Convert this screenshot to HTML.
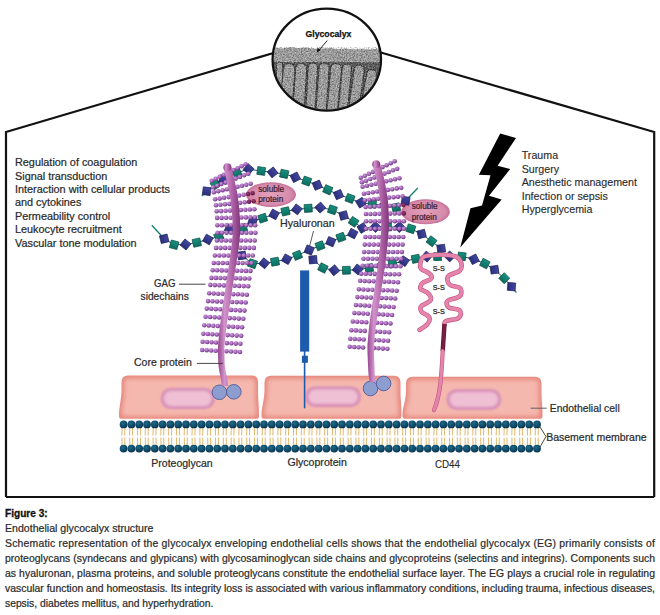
<!DOCTYPE html>
<html><head><meta charset="utf-8"><style>
html,body{margin:0;padding:0;background:#ffffff;}
svg{display:block;font-family:"Liberation Sans", sans-serif;}
</style></head><body>
<svg width="660" height="615" viewBox="0 0 660 615">

<defs>
 <radialGradient id="dot" cx="0.4" cy="0.35" r="0.7">
  <stop offset="0" stop-color="#cc9cdc"/><stop offset="0.5" stop-color="#a566b8"/><stop offset="1" stop-color="#5e2874"/>
 </radialGradient>
 <radialGradient id="dotd" cx="0.4" cy="0.35" r="0.7">
  <stop offset="0" stop-color="#9a3c78"/><stop offset="1" stop-color="#5a1436"/>
 </radialGradient>
 <linearGradient id="core" x1="0" y1="0" x2="1" y2="0">
  <stop offset="0" stop-color="#94448e"/><stop offset="0.3" stop-color="#d294cc"/><stop offset="0.65" stop-color="#b064a8"/><stop offset="1" stop-color="#80347a"/>
 </linearGradient>
 <radialGradient id="cellg" cx="0.5" cy="0.5" r="0.6">
  <stop offset="0" stop-color="#f7cdc6"/><stop offset="0.7" stop-color="#f4b9b0"/><stop offset="1" stop-color="#e8908a"/>
 </radialGradient>
 <radialGradient id="nuc" cx="0.5" cy="0.5" r="0.55">
  <stop offset="0" stop-color="#f1c3dc"/><stop offset="0.6" stop-color="#e6a8cc"/><stop offset="1" stop-color="#c474a8"/>
 </radialGradient>
 <radialGradient id="head" cx="0.4" cy="0.35" r="0.7">
  <stop offset="0" stop-color="#1f6a8a"/><stop offset="0.6" stop-color="#0f4a68"/><stop offset="1" stop-color="#07304a"/>
 </radialGradient>
 <radialGradient id="ell" cx="0.5" cy="0.5" r="0.55">
  <stop offset="0" stop-color="#e3a0bc"/><stop offset="0.75" stop-color="#d68aab"/><stop offset="1" stop-color="#b85f88"/>
 </radialGradient>
 <radialGradient id="base" cx="0.4" cy="0.4" r="0.6">
  <stop offset="0" stop-color="#9aa6d6"/><stop offset="1" stop-color="#7482bc"/>
 </radialGradient>
 <linearGradient id="teal" x1="0" y1="0" x2="0" y2="1"><stop offset="0" stop-color="#16927f"/><stop offset="1" stop-color="#0c6d60"/></linearGradient>
 <linearGradient id="navy" x1="0" y1="0" x2="0" y2="1"><stop offset="0" stop-color="#4348a0"/><stop offset="1" stop-color="#2a2d7a"/></linearGradient>
</defs>
<rect width="660" height="615" fill="#ffffff"/>
<path d="M6 497 L6 132 L273.5 53 M380 52.3 L654.2 132 L654.2 497" fill="none" stroke="#111" stroke-width="2.2" stroke-linejoin="miter"/>
<path d="M6 497 L654.2 497" stroke="#111" stroke-width="2.2"/>
<ellipse cx="326.8" cy="59.6" rx="54.2" ry="51" fill="#fff"/>
<clipPath id="circ"><ellipse cx="326.8" cy="59.6" rx="53.2" ry="50"/></clipPath>
<filter id="noise" x="0" y="0" width="100%" height="100%"><feTurbulence type="fractalNoise" baseFrequency="0.7" numOctaves="2" seed="7" result="n"/><feColorMatrix in="n" type="matrix" values="0 0 0 0 0  0 0 0 0 0  0 0 0 0 0  0 0 0 2.2 -0.9"/></filter>
<filter id="noisew" x="0" y="0" width="100%" height="100%"><feTurbulence type="fractalNoise" baseFrequency="0.8" numOctaves="2" seed="11" result="n"/><feColorMatrix in="n" type="matrix" values="0 0 0 0 1  0 0 0 0 1  0 0 0 0 1  0 0 0 2.4 -1.1"/></filter>
<filter id="cblur" x="-10%" y="-10%" width="120%" height="120%"><feGaussianBlur stdDeviation="0.6"/></filter>
<g clip-path="url(#circ)"><path d="M268 49 L275 47.5 L282 48.5 L290 47 L298 48 L306 47.5 L314 49 L322 48.5 L330 48 L338 49 L346 48.5 L354 49.5 L362 49 L370 49.5 L378 48.5 L388 50 L388 120 L268 120 Z" fill="#a2a2a2"/><rect x="268" y="62" width="120" height="60" fill="#5a5a5a"/><path d="M276.3 65.5 Q276.3 62 279.5 62 Q282.7 62 282.7 65.5 L282.7 118 L276.3 118 Z" fill="#a2a2a2" stroke="#3a3a3a" stroke-width="1.15" filter="url(#cblur)"/><path d="M283.1 69.75 Q283.1 63.5 289.05 63.5 Q295.0 63.5 295.0 69.75 L291.7 118 L279.3 118 Z" fill="#a2a2a2" stroke="#3a3a3a" stroke-width="1.15" filter="url(#cblur)"/><path d="M295.6 69.35 Q295.6 63.5 301.15 63.5 Q306.7 63.5 306.7 69.35 L303.7 118 L292.3 118 Z" fill="#a2a2a2" stroke="#3a3a3a" stroke-width="1.15" filter="url(#cblur)"/><path d="M308.1 68.0 Q308.1 63 312.8 63 Q317.5 63 317.5 68.0 L314.7 118 L305.3 118 Z" fill="#a2a2a2" stroke="#3a3a3a" stroke-width="1.15" filter="url(#cblur)"/><path d="M319.0 68.4 Q319.0 63 324.1 63 Q329.2 63 329.2 68.4 L325.7 118 L315.3 118 Z" fill="#a2a2a2" stroke="#3a3a3a" stroke-width="1.15" filter="url(#cblur)"/><path d="M330.6 69.35 Q330.6 63.5 336.15 63.5 Q341.7 63.5 341.7 69.35 L336.7 118 L326.3 118 Z" fill="#a2a2a2" stroke="#3a3a3a" stroke-width="1.15" filter="url(#cblur)"/><path d="M342.3 69.0 Q342.3 64 347.0 64 Q351.7 64 351.7 69.0 L346.7 118 L337.3 118 Z" fill="#a2a2a2" stroke="#3a3a3a" stroke-width="1.15" filter="url(#cblur)"/><path d="M354.0 70.4 Q354.0 65 359.1 65 Q364.2 65 364.2 70.4 L357.7 118 L347.3 118 Z" fill="#a2a2a2" stroke="#3a3a3a" stroke-width="1.15" filter="url(#cblur)"/><path d="M366.5 74.9 Q366.5 69.5 371.6 69.5 Q376.7 69.5 376.7 74.9 L368.7 118 L358.3 118 Z" fill="#a2a2a2" stroke="#3a3a3a" stroke-width="1.15" filter="url(#cblur)"/><rect x="268" y="44" width="120" height="75" fill="#000" filter="url(#noise)" opacity="0.45"/><rect x="268" y="44" width="120" height="75" fill="#fff" filter="url(#noisew)" opacity="0.5"/><rect x="268" y="0" width="120" height="47" fill="#fff"/></g>
<ellipse cx="326.8" cy="59.6" rx="54.2" ry="51" fill="none" stroke="#111" stroke-width="2.3"/>
<text x="305.5" y="36.5" font-family=""Liberation Sans", sans-serif" font-weight="bold" font-size="8.7" fill="#111" stroke="#111" stroke-width="0.25">Glycocalyx</text>
<path d="M327.3 40.6 L318.5 50.5" stroke="#111" stroke-width="0.9"/><path d="M316.6 52.6 L317.6 47.6 L320.6 50.2 Z" fill="#111"/>
<path d="M500.2 133.5 L516 138 L497.6 165.8 L510.2 169 L489 195.8 L501.7 199.4 L460.2 247.6 L470.5 208.3 L482 205.6 L490.5 175.2 L478.9 174.8 Z" fill="#000"/>
<filter id="blur2" x="-20%" y="-40%" width="140%" height="180%"><feGaussianBlur stdDeviation="2.2"/></filter>
<filter id="blur1" x="-20%" y="-40%" width="140%" height="180%"><feGaussianBlur stdDeviation="1.3"/></filter>
<filter id="blur08" x="-20%" y="-40%" width="140%" height="180%"><feGaussianBlur stdDeviation="0.8"/></filter>
<filter id="blur15" x="-20%" y="-40%" width="140%" height="180%"><feGaussianBlur stdDeviation="1.6"/></filter>
<path d="M128.0 375.5 L251.5 375.5 Q258 375.5 258 382.0 L258 391.5 C258 399.5 259.0 404.8 259.0 415.8 Q259.0 418.8 257.0 418.8 L121.0 418.8 Q119.0 418.8 119.0 415.8 C119.0 406.8 121.5 399.5 121.5 389.5 L121.5 382.0 Q121.5 375.5 128.0 375.5 Z" fill="#e7897f"/>
<path d="M128.5 378.5 L251 378.5 Q255 378.5 255 382.5 L255 394.5 C255 402.5 256.0 402.3 256.0 413.3 Q256.0 416.3 254.0 416.3 L124.0 416.3 Q122.0 416.3 122.0 413.3 C122.0 404.3 124.5 402.5 124.5 392.5 L124.5 382.5 Q124.5 378.5 128.5 378.5 Z" fill="#f4b8ae" filter="url(#blur2)"/>
<path d="M271.0 375.7 L394.0 375.7 Q400.5 375.7 400.5 382.2 L400.5 391.7 C400.5 399.7 401.5 404.8 401.5 415.8 Q401.5 418.8 399.5 418.8 L263.5 418.8 Q261.5 418.8 261.5 415.8 C261.5 406.8 264.5 399.7 264.5 389.7 L264.5 382.2 Q264.5 375.7 271.0 375.7 Z" fill="#e7897f"/>
<path d="M271.5 378.7 L393.5 378.7 Q397.5 378.7 397.5 382.7 L397.5 394.7 C397.5 402.7 398.5 402.3 398.5 413.3 Q398.5 416.3 396.5 416.3 L266.5 416.3 Q264.5 416.3 264.5 413.3 C264.5 404.3 267.5 402.7 267.5 392.7 L267.5 382.7 Q267.5 378.7 271.5 378.7 Z" fill="#f4b8ae" filter="url(#blur2)"/>
<path d="M412.5 376.8 L535.0 376.8 Q541.5 376.8 541.5 383.3 L541.5 392.8 C541.5 400.8 542.5 404.8 542.5 415.8 Q542.5 418.8 540.5 418.8 L404.5 418.8 Q402.5 418.8 402.5 415.8 C402.5 406.8 406 400.8 406 390.8 L406 383.3 Q406 376.8 412.5 376.8 Z" fill="#e7897f"/>
<path d="M413 379.8 L534.5 379.8 Q538.5 379.8 538.5 383.8 L538.5 395.8 C538.5 403.8 539.5 402.3 539.5 413.3 Q539.5 416.3 537.5 416.3 L407.5 416.3 Q405.5 416.3 405.5 413.3 C405.5 404.3 409 403.8 409 393.8 L409 383.8 Q409 379.8 413 379.8 Z" fill="#f4b8ae" filter="url(#blur2)"/>
<rect x="160.8" y="388" width="54.0" height="21" rx="9.975" fill="#d68cb6" filter="url(#blur08)"/><rect x="163.60000000000002" y="390.8" width="48.4" height="15.4" rx="7.7" fill="#efc0d4" filter="url(#blur15)"/>
<rect x="305.4" y="386.5" width="55.400000000000034" height="20.399999999999977" rx="9.689999999999989" fill="#d68cb6" filter="url(#blur08)"/><rect x="308.2" y="389.3" width="49.80000000000003" height="14.799999999999978" rx="7.399999999999989" fill="#efc0d4" filter="url(#blur15)"/>
<rect x="446.6" y="389.3" width="54.5" height="20.5" rx="9.737499999999999" fill="#d68cb6" filter="url(#blur08)"/><rect x="449.40000000000003" y="392.1" width="48.9" height="14.9" rx="7.45" fill="#efc0d4" filter="url(#blur15)"/>
<path d="M122.0 427.5 L121.8 435.5 M124.9 427.5 L124.7 435.5 M121.9 437.5 L122.0 445.5 M124.8 437.5 L124.9 445.5" stroke="#e2b86c" stroke-width="1.0"/><path d="M129.8 427.5 L129.6 435.5 M132.7 427.5 L132.5 435.5 M129.7 437.5 L129.8 445.5 M132.6 437.5 L132.7 445.5" stroke="#e2b86c" stroke-width="1.0"/><path d="M137.6 427.5 L137.4 435.5 M140.5 427.5 L140.3 435.5 M137.5 437.5 L137.6 445.5 M140.4 437.5 L140.5 445.5" stroke="#e2b86c" stroke-width="1.0"/><path d="M145.4 427.5 L145.2 435.5 M148.3 427.5 L148.1 435.5 M145.3 437.5 L145.4 445.5 M148.2 437.5 L148.3 445.5" stroke="#e2b86c" stroke-width="1.0"/><path d="M153.2 427.5 L153.0 435.5 M156.1 427.5 L155.9 435.5 M153.1 437.5 L153.2 445.5 M156.0 437.5 L156.1 445.5" stroke="#e2b86c" stroke-width="1.0"/><path d="M161.0 427.5 L160.8 435.5 M163.9 427.5 L163.7 435.5 M160.9 437.5 L161.0 445.5 M163.8 437.5 L163.9 445.5" stroke="#e2b86c" stroke-width="1.0"/><path d="M168.8 427.5 L168.6 435.5 M171.7 427.5 L171.5 435.5 M168.7 437.5 L168.8 445.5 M171.6 437.5 L171.7 445.5" stroke="#e2b86c" stroke-width="1.0"/><path d="M176.6 427.5 L176.4 435.5 M179.5 427.5 L179.3 435.5 M176.5 437.5 L176.6 445.5 M179.4 437.5 L179.5 445.5" stroke="#e2b86c" stroke-width="1.0"/><path d="M184.4 427.5 L184.2 435.5 M187.3 427.5 L187.1 435.5 M184.3 437.5 L184.4 445.5 M187.2 437.5 L187.3 445.5" stroke="#e2b86c" stroke-width="1.0"/><path d="M192.2 427.5 L192.0 435.5 M195.1 427.5 L194.9 435.5 M192.1 437.5 L192.2 445.5 M195.0 437.5 L195.1 445.5" stroke="#e2b86c" stroke-width="1.0"/><path d="M200.0 427.5 L199.8 435.5 M202.9 427.5 L202.7 435.5 M199.9 437.5 L200.0 445.5 M202.8 437.5 L202.9 445.5" stroke="#e2b86c" stroke-width="1.0"/><path d="M207.8 427.5 L207.6 435.5 M210.7 427.5 L210.5 435.5 M207.7 437.5 L207.8 445.5 M210.6 437.5 L210.7 445.5" stroke="#e2b86c" stroke-width="1.0"/><path d="M215.6 427.5 L215.4 435.5 M218.5 427.5 L218.3 435.5 M215.5 437.5 L215.6 445.5 M218.4 437.5 L218.5 445.5" stroke="#e2b86c" stroke-width="1.0"/><path d="M223.4 427.5 L223.2 435.5 M226.3 427.5 L226.1 435.5 M223.3 437.5 L223.4 445.5 M226.2 437.5 L226.3 445.5" stroke="#e2b86c" stroke-width="1.0"/><path d="M231.2 427.5 L231.0 435.5 M234.1 427.5 L233.9 435.5 M231.1 437.5 L231.2 445.5 M234.0 437.5 L234.1 445.5" stroke="#e2b86c" stroke-width="1.0"/><path d="M239.0 427.5 L238.8 435.5 M241.9 427.5 L241.7 435.5 M238.9 437.5 L239.0 445.5 M241.8 437.5 L241.9 445.5" stroke="#e2b86c" stroke-width="1.0"/><path d="M246.8 427.5 L246.6 435.5 M249.7 427.5 L249.5 435.5 M246.7 437.5 L246.8 445.5 M249.6 437.5 L249.7 445.5" stroke="#e2b86c" stroke-width="1.0"/><path d="M254.6 427.5 L254.4 435.5 M257.5 427.5 L257.3 435.5 M254.5 437.5 L254.6 445.5 M257.4 437.5 L257.5 445.5" stroke="#e2b86c" stroke-width="1.0"/><path d="M262.4 427.5 L262.2 435.5 M265.3 427.5 L265.1 435.5 M262.3 437.5 L262.4 445.5 M265.2 437.5 L265.3 445.5" stroke="#e2b86c" stroke-width="1.0"/><path d="M270.2 427.5 L270.0 435.5 M273.1 427.5 L272.9 435.5 M270.1 437.5 L270.2 445.5 M273.0 437.5 L273.1 445.5" stroke="#e2b86c" stroke-width="1.0"/><path d="M278.0 427.5 L277.8 435.5 M280.9 427.5 L280.7 435.5 M277.9 437.5 L278.0 445.5 M280.8 437.5 L280.9 445.5" stroke="#e2b86c" stroke-width="1.0"/><path d="M285.8 427.5 L285.6 435.5 M288.7 427.5 L288.5 435.5 M285.7 437.5 L285.8 445.5 M288.6 437.5 L288.7 445.5" stroke="#e2b86c" stroke-width="1.0"/><path d="M293.6 427.5 L293.4 435.5 M296.5 427.5 L296.3 435.5 M293.5 437.5 L293.6 445.5 M296.4 437.5 L296.5 445.5" stroke="#e2b86c" stroke-width="1.0"/><path d="M301.4 427.5 L301.2 435.5 M304.3 427.5 L304.1 435.5 M301.3 437.5 L301.4 445.5 M304.2 437.5 L304.3 445.5" stroke="#e2b86c" stroke-width="1.0"/><path d="M309.2 427.5 L309.0 435.5 M312.1 427.5 L311.9 435.5 M309.1 437.5 L309.2 445.5 M312.0 437.5 L312.1 445.5" stroke="#e2b86c" stroke-width="1.0"/><path d="M317.0 427.5 L316.8 435.5 M319.9 427.5 L319.7 435.5 M316.9 437.5 L317.0 445.5 M319.8 437.5 L319.9 445.5" stroke="#e2b86c" stroke-width="1.0"/><path d="M324.8 427.5 L324.6 435.5 M327.7 427.5 L327.5 435.5 M324.7 437.5 L324.8 445.5 M327.6 437.5 L327.7 445.5" stroke="#e2b86c" stroke-width="1.0"/><path d="M332.6 427.5 L332.4 435.5 M335.5 427.5 L335.3 435.5 M332.5 437.5 L332.6 445.5 M335.4 437.5 L335.5 445.5" stroke="#e2b86c" stroke-width="1.0"/><path d="M340.4 427.5 L340.2 435.5 M343.3 427.5 L343.1 435.5 M340.3 437.5 L340.4 445.5 M343.2 437.5 L343.3 445.5" stroke="#e2b86c" stroke-width="1.0"/><path d="M348.2 427.5 L348.0 435.5 M351.1 427.5 L350.9 435.5 M348.1 437.5 L348.2 445.5 M351.0 437.5 L351.1 445.5" stroke="#e2b86c" stroke-width="1.0"/><path d="M356.0 427.5 L355.8 435.5 M358.9 427.5 L358.7 435.5 M355.9 437.5 L356.0 445.5 M358.8 437.5 L358.9 445.5" stroke="#e2b86c" stroke-width="1.0"/><path d="M363.8 427.5 L363.6 435.5 M366.7 427.5 L366.5 435.5 M363.7 437.5 L363.8 445.5 M366.6 437.5 L366.7 445.5" stroke="#e2b86c" stroke-width="1.0"/><path d="M371.6 427.5 L371.4 435.5 M374.5 427.5 L374.3 435.5 M371.5 437.5 L371.6 445.5 M374.4 437.5 L374.5 445.5" stroke="#e2b86c" stroke-width="1.0"/><path d="M379.4 427.5 L379.2 435.5 M382.3 427.5 L382.1 435.5 M379.3 437.5 L379.4 445.5 M382.2 437.5 L382.3 445.5" stroke="#e2b86c" stroke-width="1.0"/><path d="M387.2 427.5 L387.0 435.5 M390.1 427.5 L389.9 435.5 M387.1 437.5 L387.2 445.5 M390.0 437.5 L390.1 445.5" stroke="#e2b86c" stroke-width="1.0"/><path d="M395.0 427.5 L394.8 435.5 M397.9 427.5 L397.7 435.5 M394.9 437.5 L395.0 445.5 M397.8 437.5 L397.9 445.5" stroke="#e2b86c" stroke-width="1.0"/><path d="M402.8 427.5 L402.6 435.5 M405.7 427.5 L405.5 435.5 M402.7 437.5 L402.8 445.5 M405.6 437.5 L405.7 445.5" stroke="#e2b86c" stroke-width="1.0"/><path d="M410.6 427.5 L410.4 435.5 M413.5 427.5 L413.3 435.5 M410.5 437.5 L410.6 445.5 M413.4 437.5 L413.5 445.5" stroke="#e2b86c" stroke-width="1.0"/><path d="M418.4 427.5 L418.2 435.5 M421.3 427.5 L421.1 435.5 M418.3 437.5 L418.4 445.5 M421.2 437.5 L421.3 445.5" stroke="#e2b86c" stroke-width="1.0"/><path d="M426.2 427.5 L426.0 435.5 M429.1 427.5 L428.9 435.5 M426.1 437.5 L426.2 445.5 M429.0 437.5 L429.1 445.5" stroke="#e2b86c" stroke-width="1.0"/><path d="M434.0 427.5 L433.8 435.5 M436.9 427.5 L436.7 435.5 M433.9 437.5 L434.0 445.5 M436.8 437.5 L436.9 445.5" stroke="#e2b86c" stroke-width="1.0"/><path d="M441.8 427.5 L441.6 435.5 M444.7 427.5 L444.5 435.5 M441.7 437.5 L441.8 445.5 M444.6 437.5 L444.7 445.5" stroke="#e2b86c" stroke-width="1.0"/><path d="M449.6 427.5 L449.4 435.5 M452.5 427.5 L452.3 435.5 M449.5 437.5 L449.6 445.5 M452.4 437.5 L452.5 445.5" stroke="#e2b86c" stroke-width="1.0"/><path d="M457.4 427.5 L457.2 435.5 M460.3 427.5 L460.1 435.5 M457.3 437.5 L457.4 445.5 M460.2 437.5 L460.3 445.5" stroke="#e2b86c" stroke-width="1.0"/><path d="M465.2 427.5 L465.0 435.5 M468.1 427.5 L467.9 435.5 M465.1 437.5 L465.2 445.5 M468.0 437.5 L468.1 445.5" stroke="#e2b86c" stroke-width="1.0"/><path d="M473.0 427.5 L472.8 435.5 M475.9 427.5 L475.7 435.5 M472.9 437.5 L473.0 445.5 M475.8 437.5 L475.9 445.5" stroke="#e2b86c" stroke-width="1.0"/><path d="M480.8 427.5 L480.6 435.5 M483.7 427.5 L483.5 435.5 M480.7 437.5 L480.8 445.5 M483.6 437.5 L483.7 445.5" stroke="#e2b86c" stroke-width="1.0"/><path d="M488.6 427.5 L488.4 435.5 M491.5 427.5 L491.3 435.5 M488.5 437.5 L488.6 445.5 M491.4 437.5 L491.5 445.5" stroke="#e2b86c" stroke-width="1.0"/><path d="M496.4 427.5 L496.2 435.5 M499.3 427.5 L499.1 435.5 M496.3 437.5 L496.4 445.5 M499.2 437.5 L499.3 445.5" stroke="#e2b86c" stroke-width="1.0"/><path d="M504.2 427.5 L504.0 435.5 M507.1 427.5 L506.9 435.5 M504.1 437.5 L504.2 445.5 M507.0 437.5 L507.1 445.5" stroke="#e2b86c" stroke-width="1.0"/><path d="M512.0 427.5 L511.8 435.5 M514.9 427.5 L514.7 435.5 M511.9 437.5 L512.0 445.5 M514.8 437.5 L514.9 445.5" stroke="#e2b86c" stroke-width="1.0"/><path d="M519.8 427.5 L519.6 435.5 M522.7 427.5 L522.5 435.5 M519.7 437.5 L519.8 445.5 M522.6 437.5 L522.7 445.5" stroke="#e2b86c" stroke-width="1.0"/><path d="M527.6 427.5 L527.4 435.5 M530.5 427.5 L530.3 435.5 M527.5 437.5 L527.6 445.5 M530.4 437.5 L530.5 445.5" stroke="#e2b86c" stroke-width="1.0"/><path d="M535.4 427.5 L535.2 435.5 M538.3 427.5 L538.1 435.5 M535.3 437.5 L535.4 445.5 M538.2 437.5 L538.3 445.5" stroke="#e2b86c" stroke-width="1.0"/><circle cx="123.6" cy="424.4" r="3.9" fill="url(#head)"/><circle cx="123.6" cy="448.6" r="3.9" fill="url(#head)"/><circle cx="131.4" cy="424.4" r="3.9" fill="url(#head)"/><circle cx="131.4" cy="448.6" r="3.9" fill="url(#head)"/><circle cx="139.2" cy="424.4" r="3.9" fill="url(#head)"/><circle cx="139.2" cy="448.6" r="3.9" fill="url(#head)"/><circle cx="147.0" cy="424.4" r="3.9" fill="url(#head)"/><circle cx="147.0" cy="448.6" r="3.9" fill="url(#head)"/><circle cx="154.8" cy="424.4" r="3.9" fill="url(#head)"/><circle cx="154.8" cy="448.6" r="3.9" fill="url(#head)"/><circle cx="162.6" cy="424.4" r="3.9" fill="url(#head)"/><circle cx="162.6" cy="448.6" r="3.9" fill="url(#head)"/><circle cx="170.4" cy="424.4" r="3.9" fill="url(#head)"/><circle cx="170.4" cy="448.6" r="3.9" fill="url(#head)"/><circle cx="178.2" cy="424.4" r="3.9" fill="url(#head)"/><circle cx="178.2" cy="448.6" r="3.9" fill="url(#head)"/><circle cx="186.0" cy="424.4" r="3.9" fill="url(#head)"/><circle cx="186.0" cy="448.6" r="3.9" fill="url(#head)"/><circle cx="193.8" cy="424.4" r="3.9" fill="url(#head)"/><circle cx="193.8" cy="448.6" r="3.9" fill="url(#head)"/><circle cx="201.6" cy="424.4" r="3.9" fill="url(#head)"/><circle cx="201.6" cy="448.6" r="3.9" fill="url(#head)"/><circle cx="209.4" cy="424.4" r="3.9" fill="url(#head)"/><circle cx="209.4" cy="448.6" r="3.9" fill="url(#head)"/><circle cx="217.2" cy="424.4" r="3.9" fill="url(#head)"/><circle cx="217.2" cy="448.6" r="3.9" fill="url(#head)"/><circle cx="225.0" cy="424.4" r="3.9" fill="url(#head)"/><circle cx="225.0" cy="448.6" r="3.9" fill="url(#head)"/><circle cx="232.8" cy="424.4" r="3.9" fill="url(#head)"/><circle cx="232.8" cy="448.6" r="3.9" fill="url(#head)"/><circle cx="240.6" cy="424.4" r="3.9" fill="url(#head)"/><circle cx="240.6" cy="448.6" r="3.9" fill="url(#head)"/><circle cx="248.4" cy="424.4" r="3.9" fill="url(#head)"/><circle cx="248.4" cy="448.6" r="3.9" fill="url(#head)"/><circle cx="256.2" cy="424.4" r="3.9" fill="url(#head)"/><circle cx="256.2" cy="448.6" r="3.9" fill="url(#head)"/><circle cx="264.0" cy="424.4" r="3.9" fill="url(#head)"/><circle cx="264.0" cy="448.6" r="3.9" fill="url(#head)"/><circle cx="271.8" cy="424.4" r="3.9" fill="url(#head)"/><circle cx="271.8" cy="448.6" r="3.9" fill="url(#head)"/><circle cx="279.6" cy="424.4" r="3.9" fill="url(#head)"/><circle cx="279.6" cy="448.6" r="3.9" fill="url(#head)"/><circle cx="287.4" cy="424.4" r="3.9" fill="url(#head)"/><circle cx="287.4" cy="448.6" r="3.9" fill="url(#head)"/><circle cx="295.2" cy="424.4" r="3.9" fill="url(#head)"/><circle cx="295.2" cy="448.6" r="3.9" fill="url(#head)"/><circle cx="303.0" cy="424.4" r="3.9" fill="url(#head)"/><circle cx="303.0" cy="448.6" r="3.9" fill="url(#head)"/><circle cx="310.8" cy="424.4" r="3.9" fill="url(#head)"/><circle cx="310.8" cy="448.6" r="3.9" fill="url(#head)"/><circle cx="318.6" cy="424.4" r="3.9" fill="url(#head)"/><circle cx="318.6" cy="448.6" r="3.9" fill="url(#head)"/><circle cx="326.4" cy="424.4" r="3.9" fill="url(#head)"/><circle cx="326.4" cy="448.6" r="3.9" fill="url(#head)"/><circle cx="334.2" cy="424.4" r="3.9" fill="url(#head)"/><circle cx="334.2" cy="448.6" r="3.9" fill="url(#head)"/><circle cx="342.0" cy="424.4" r="3.9" fill="url(#head)"/><circle cx="342.0" cy="448.6" r="3.9" fill="url(#head)"/><circle cx="349.8" cy="424.4" r="3.9" fill="url(#head)"/><circle cx="349.8" cy="448.6" r="3.9" fill="url(#head)"/><circle cx="357.6" cy="424.4" r="3.9" fill="url(#head)"/><circle cx="357.6" cy="448.6" r="3.9" fill="url(#head)"/><circle cx="365.4" cy="424.4" r="3.9" fill="url(#head)"/><circle cx="365.4" cy="448.6" r="3.9" fill="url(#head)"/><circle cx="373.2" cy="424.4" r="3.9" fill="url(#head)"/><circle cx="373.2" cy="448.6" r="3.9" fill="url(#head)"/><circle cx="381.0" cy="424.4" r="3.9" fill="url(#head)"/><circle cx="381.0" cy="448.6" r="3.9" fill="url(#head)"/><circle cx="388.8" cy="424.4" r="3.9" fill="url(#head)"/><circle cx="388.8" cy="448.6" r="3.9" fill="url(#head)"/><circle cx="396.6" cy="424.4" r="3.9" fill="url(#head)"/><circle cx="396.6" cy="448.6" r="3.9" fill="url(#head)"/><circle cx="404.4" cy="424.4" r="3.9" fill="url(#head)"/><circle cx="404.4" cy="448.6" r="3.9" fill="url(#head)"/><circle cx="412.2" cy="424.4" r="3.9" fill="url(#head)"/><circle cx="412.2" cy="448.6" r="3.9" fill="url(#head)"/><circle cx="420.0" cy="424.4" r="3.9" fill="url(#head)"/><circle cx="420.0" cy="448.6" r="3.9" fill="url(#head)"/><circle cx="427.8" cy="424.4" r="3.9" fill="url(#head)"/><circle cx="427.8" cy="448.6" r="3.9" fill="url(#head)"/><circle cx="435.6" cy="424.4" r="3.9" fill="url(#head)"/><circle cx="435.6" cy="448.6" r="3.9" fill="url(#head)"/><circle cx="443.4" cy="424.4" r="3.9" fill="url(#head)"/><circle cx="443.4" cy="448.6" r="3.9" fill="url(#head)"/><circle cx="451.2" cy="424.4" r="3.9" fill="url(#head)"/><circle cx="451.2" cy="448.6" r="3.9" fill="url(#head)"/><circle cx="459.0" cy="424.4" r="3.9" fill="url(#head)"/><circle cx="459.0" cy="448.6" r="3.9" fill="url(#head)"/><circle cx="466.8" cy="424.4" r="3.9" fill="url(#head)"/><circle cx="466.8" cy="448.6" r="3.9" fill="url(#head)"/><circle cx="474.6" cy="424.4" r="3.9" fill="url(#head)"/><circle cx="474.6" cy="448.6" r="3.9" fill="url(#head)"/><circle cx="482.4" cy="424.4" r="3.9" fill="url(#head)"/><circle cx="482.4" cy="448.6" r="3.9" fill="url(#head)"/><circle cx="490.2" cy="424.4" r="3.9" fill="url(#head)"/><circle cx="490.2" cy="448.6" r="3.9" fill="url(#head)"/><circle cx="498.0" cy="424.4" r="3.9" fill="url(#head)"/><circle cx="498.0" cy="448.6" r="3.9" fill="url(#head)"/><circle cx="505.8" cy="424.4" r="3.9" fill="url(#head)"/><circle cx="505.8" cy="448.6" r="3.9" fill="url(#head)"/><circle cx="513.6" cy="424.4" r="3.9" fill="url(#head)"/><circle cx="513.6" cy="448.6" r="3.9" fill="url(#head)"/><circle cx="521.4" cy="424.4" r="3.9" fill="url(#head)"/><circle cx="521.4" cy="448.6" r="3.9" fill="url(#head)"/><circle cx="529.2" cy="424.4" r="3.9" fill="url(#head)"/><circle cx="529.2" cy="448.6" r="3.9" fill="url(#head)"/><circle cx="537.0" cy="424.4" r="3.9" fill="url(#head)"/><circle cx="537.0" cy="448.6" r="3.9" fill="url(#head)"/>
<ellipse cx="271" cy="194.6" rx="25" ry="12.3" fill="url(#ell)"/>
<ellipse cx="425.5" cy="211.8" rx="24.4" ry="12.5" fill="url(#ell)"/>
<path d="M206.7 191.2 L215.5 184.4 L223.3 179.5 L236.9 172.7 L248.5 169.2 L261.2 171.0 L272.6 172.4 L284.2 173.9 L295.3 177.3 L306.7 181.1 L317.3 185.2 L327.8 189.8 L338.5 194.6 L350.0 198.5 L360.9 202.7 L372.2 203.8 L384.0 205.5 L396.0 207.5 L405.6 200.7" fill="none" stroke="#1d5a66" stroke-width="1"/><path d="M201.8 196 L206.7 191.2" stroke="#12806f" stroke-width="1.3"/><path d="M405.6 200.7 L417.8 188" stroke="#12806f" stroke-width="1.3"/><rect x="-3.9" y="-3.9" width="7.8" height="7.8" fill="url(#navy)" stroke="#1c1f5c" stroke-width="0.7" transform="translate(206.7 191.2) rotate(7.3)"/><rect x="-3.9" y="-3.9" width="7.8" height="7.8" fill="url(#teal)" stroke="#0a4e45" stroke-width="0.7" transform="translate(215.5 184.4) rotate(-35.2)"/><rect x="-3.9" y="-3.9" width="7.8" height="7.8" fill="url(#navy)" stroke="#1c1f5c" stroke-width="0.7" transform="translate(223.3 179.5) rotate(16.3)"/><rect x="-3.9" y="-3.9" width="7.8" height="7.8" fill="url(#teal)" stroke="#0a4e45" stroke-width="0.7" transform="translate(236.9 172.7) rotate(-22.2)"/><rect x="-3.9" y="-3.9" width="7.8" height="7.8" fill="url(#navy)" stroke="#1c1f5c" stroke-width="0.7" transform="translate(248.5 169.2) rotate(41.0)"/><rect x="-3.9" y="-3.9" width="7.8" height="7.8" fill="url(#teal)" stroke="#0a4e45" stroke-width="0.7" transform="translate(261.2 171.0) rotate(7.6)"/><rect x="-3.9" y="-3.9" width="7.8" height="7.8" fill="url(#navy)" stroke="#1c1f5c" stroke-width="0.7" transform="translate(272.6 172.4) rotate(52.2)"/><rect x="-3.9" y="-3.9" width="7.8" height="7.8" fill="url(#teal)" stroke="#0a4e45" stroke-width="0.7" transform="translate(284.2 173.9) rotate(12.2)"/><rect x="-3.9" y="-3.9" width="7.8" height="7.8" fill="url(#navy)" stroke="#1c1f5c" stroke-width="0.7" transform="translate(295.3 177.3) rotate(62.7)"/><rect x="-3.9" y="-3.9" width="7.8" height="7.8" fill="url(#teal)" stroke="#0a4e45" stroke-width="0.7" transform="translate(306.7 181.1) rotate(19.8)"/><rect x="-3.9" y="-3.9" width="7.8" height="7.8" fill="url(#navy)" stroke="#1c1f5c" stroke-width="0.7" transform="translate(317.3 185.2) rotate(67.4)"/><rect x="-3.9" y="-3.9" width="7.8" height="7.8" fill="url(#teal)" stroke="#0a4e45" stroke-width="0.7" transform="translate(327.8 189.8) rotate(23.9)"/><rect x="-3.9" y="-3.9" width="7.8" height="7.8" fill="url(#navy)" stroke="#1c1f5c" stroke-width="0.7" transform="translate(338.5 194.6) rotate(66.4)"/><rect x="-3.9" y="-3.9" width="7.8" height="7.8" fill="url(#teal)" stroke="#0a4e45" stroke-width="0.7" transform="translate(350.0 198.5) rotate(19.9)"/><rect x="-3.9" y="-3.9" width="7.8" height="7.8" fill="url(#navy)" stroke="#1c1f5c" stroke-width="0.7" transform="translate(360.9 202.7) rotate(58.4)"/><rect x="-3.9" y="-3.9" width="7.8" height="7.8" fill="url(#teal)" stroke="#0a4e45" stroke-width="0.7" transform="translate(372.2 203.8) rotate(6.9)"/><rect x="-3.9" y="-3.9" width="7.8" height="7.8" fill="url(#navy)" stroke="#1c1f5c" stroke-width="0.7" transform="translate(384.0 205.5) rotate(53.8)"/><rect x="-3.9" y="-3.9" width="7.8" height="7.8" fill="url(#teal)" stroke="#0a4e45" stroke-width="0.7" transform="translate(396.0 207.5) rotate(-12.5)"/><rect x="-3.9" y="-3.9" width="7.8" height="7.8" fill="url(#navy)" stroke="#1c1f5c" stroke-width="0.7" transform="translate(405.6 200.7) rotate(9.7)"/>
<path d="M164.2 238.8 L174.1 244.8 L185.5 244.5 L196.8 242.6 L207.9 239.5 L218.8 236.5 L229.4 228.9 L242.8 228.2 L252.5 221.4 L262.7 218.2 L274.1 214.4 L285.5 211.4 L296.8 209.4 L308.2 208.3 L320.3 207.6 L332.4 209.8 L343.6 215.5 L353.6 221.8 L362.4 228.0 L375.4 226.9 L387.5 227.0 L399.6 227.0 L410.9 228.8 L421.6 234.0 L431.5 241.3 L441.2 248.6" fill="none" stroke="#1d5a66" stroke-width="1"/><path d="M151.8 225.2 L164.2 238.8" stroke="#12806f" stroke-width="1.3"/><rect x="-3.9" y="-3.9" width="7.8" height="7.8" fill="url(#navy)" stroke="#1c1f5c" stroke-width="0.7" transform="translate(164.2 238.8) rotate(76.2)"/><rect x="-3.9" y="-3.9" width="7.8" height="7.8" fill="url(#teal)" stroke="#0a4e45" stroke-width="0.7" transform="translate(174.1 244.8) rotate(15.0)"/><rect x="-3.9" y="-3.9" width="7.8" height="7.8" fill="url(#navy)" stroke="#1c1f5c" stroke-width="0.7" transform="translate(185.5 244.5) rotate(39.5)"/><rect x="-3.9" y="-3.9" width="7.8" height="7.8" fill="url(#teal)" stroke="#0a4e45" stroke-width="0.7" transform="translate(196.8 242.6) rotate(-12.6)"/><rect x="-3.9" y="-3.9" width="7.8" height="7.8" fill="url(#navy)" stroke="#1c1f5c" stroke-width="0.7" transform="translate(207.9 239.5) rotate(29.5)"/><rect x="-3.9" y="-3.9" width="7.8" height="7.8" fill="url(#teal)" stroke="#0a4e45" stroke-width="0.7" transform="translate(218.8 236.5) rotate(-26.2)"/><rect x="-3.9" y="-3.9" width="7.8" height="7.8" fill="url(#navy)" stroke="#1c1f5c" stroke-width="0.7" transform="translate(229.4 228.9) rotate(25.9)"/><rect x="-3.9" y="-3.9" width="7.8" height="7.8" fill="url(#teal)" stroke="#0a4e45" stroke-width="0.7" transform="translate(242.8 228.2) rotate(-18.0)"/><rect x="-3.9" y="-3.9" width="7.8" height="7.8" fill="url(#navy)" stroke="#1c1f5c" stroke-width="0.7" transform="translate(252.5 221.4) rotate(18.3)"/><rect x="-3.9" y="-3.9" width="7.8" height="7.8" fill="url(#teal)" stroke="#0a4e45" stroke-width="0.7" transform="translate(262.7 218.2) rotate(-18.0)"/><rect x="-3.9" y="-3.9" width="7.8" height="7.8" fill="url(#navy)" stroke="#1c1f5c" stroke-width="0.7" transform="translate(274.1 214.4) rotate(28.4)"/><rect x="-3.9" y="-3.9" width="7.8" height="7.8" fill="url(#teal)" stroke="#0a4e45" stroke-width="0.7" transform="translate(285.5 211.4) rotate(-12.4)"/><rect x="-3.9" y="-3.9" width="7.8" height="7.8" fill="url(#navy)" stroke="#1c1f5c" stroke-width="0.7" transform="translate(296.8 209.4) rotate(37.2)"/><rect x="-3.9" y="-3.9" width="7.8" height="7.8" fill="url(#teal)" stroke="#0a4e45" stroke-width="0.7" transform="translate(308.2 208.3) rotate(-4.4)"/><rect x="-3.9" y="-3.9" width="7.8" height="7.8" fill="url(#navy)" stroke="#1c1f5c" stroke-width="0.7" transform="translate(320.3 207.6) rotate(48.5)"/><rect x="-3.9" y="-3.9" width="7.8" height="7.8" fill="url(#teal)" stroke="#0a4e45" stroke-width="0.7" transform="translate(332.4 209.8) rotate(18.7)"/><rect x="-3.9" y="-3.9" width="7.8" height="7.8" fill="url(#navy)" stroke="#1c1f5c" stroke-width="0.7" transform="translate(343.6 215.5) rotate(74.5)"/><rect x="-3.9" y="-3.9" width="7.8" height="7.8" fill="url(#teal)" stroke="#0a4e45" stroke-width="0.7" transform="translate(353.6 221.8) rotate(33.6)"/><rect x="-3.9" y="-3.9" width="7.8" height="7.8" fill="url(#navy)" stroke="#1c1f5c" stroke-width="0.7" transform="translate(362.4 228.0) rotate(58.2)"/><rect x="-3.9" y="-3.9" width="7.8" height="7.8" fill="url(#navy)" stroke="#1c1f5c" stroke-width="0.7" transform="translate(375.4 226.9) rotate(42.7)"/><rect x="-3.9" y="-3.9" width="7.8" height="7.8" fill="url(#teal)" stroke="#0a4e45" stroke-width="0.7" transform="translate(387.5 227.0) rotate(0.2)"/><rect x="-3.9" y="-3.9" width="7.8" height="7.8" fill="url(#navy)" stroke="#1c1f5c" stroke-width="0.7" transform="translate(399.6 227.0) rotate(49.4)"/><rect x="-3.9" y="-3.9" width="7.8" height="7.8" fill="url(#teal)" stroke="#0a4e45" stroke-width="0.7" transform="translate(410.9 228.8) rotate(17.7)"/><rect x="-3.9" y="-3.9" width="7.8" height="7.8" fill="url(#navy)" stroke="#1c1f5c" stroke-width="0.7" transform="translate(421.6 234.0) rotate(76.2)"/><rect x="-3.9" y="-3.9" width="7.8" height="7.8" fill="url(#teal)" stroke="#0a4e45" stroke-width="0.7" transform="translate(431.5 241.3) rotate(36.7)"/><rect x="-3.9" y="-3.9" width="7.8" height="7.8" fill="url(#navy)" stroke="#1c1f5c" stroke-width="0.7" transform="translate(441.2 248.6) rotate(82.0)"/>
<path d="M241.8 255.5 L252.5 263.7 L264.2 263.3 L275.0 261.7 L286.7 259.2 L297.5 255.3 L309.2 250.0 L320.0 245.8 L330.8 241.7 L340.9 237.3 L352.7 233.6" fill="none" stroke="#1d5a66" stroke-width="1"/><rect x="-3.9" y="-3.9" width="7.8" height="7.8" fill="url(#navy)" stroke="#1c1f5c" stroke-width="0.7" transform="translate(241.8 255.5) rotate(82.5)"/><rect x="-3.9" y="-3.9" width="7.8" height="7.8" fill="url(#teal)" stroke="#0a4e45" stroke-width="0.7" transform="translate(252.5 263.7) rotate(19.2)"/><rect x="-3.9" y="-3.9" width="7.8" height="7.8" fill="url(#navy)" stroke="#1c1f5c" stroke-width="0.7" transform="translate(264.2 263.3) rotate(39.9)"/><rect x="-3.9" y="-3.9" width="7.8" height="7.8" fill="url(#teal)" stroke="#0a4e45" stroke-width="0.7" transform="translate(275.0 261.7) rotate(-10.3)"/><rect x="-3.9" y="-3.9" width="7.8" height="7.8" fill="url(#navy)" stroke="#1c1f5c" stroke-width="0.7" transform="translate(286.7 259.2) rotate(29.1)"/><rect x="-3.9" y="-3.9" width="7.8" height="7.8" fill="url(#teal)" stroke="#0a4e45" stroke-width="0.7" transform="translate(297.5 255.3) rotate(-22.2)"/><rect x="-3.9" y="-3.9" width="7.8" height="7.8" fill="url(#navy)" stroke="#1c1f5c" stroke-width="0.7" transform="translate(309.2 250.0) rotate(22.1)"/><rect x="-3.9" y="-3.9" width="7.8" height="7.8" fill="url(#teal)" stroke="#0a4e45" stroke-width="0.7" transform="translate(320.0 245.8) rotate(-21.0)"/><rect x="-3.9" y="-3.9" width="7.8" height="7.8" fill="url(#navy)" stroke="#1c1f5c" stroke-width="0.7" transform="translate(330.8 241.7) rotate(22.9)"/><rect x="-3.9" y="-3.9" width="7.8" height="7.8" fill="url(#teal)" stroke="#0a4e45" stroke-width="0.7" transform="translate(340.9 237.3) rotate(-20.3)"/><rect x="-3.9" y="-3.9" width="7.8" height="7.8" fill="url(#navy)" stroke="#1c1f5c" stroke-width="0.7" transform="translate(352.7 233.6) rotate(27.6)"/>
<path d="M313.0 259.7 L322.9 268.0 L334.2 270.3 L346.4 270.3 L357.7 269.5 L369.1 268.0 L381.0 265.8 L392.6 263.5 L404.0 261.2 L415.8 258.8 L426.7 256.6 L437.6 256.6 L449.7 256.4 L461.8 256.4 L474.0 259.3 L484.8 263.6 L494.5 269.7 L504.2 278.2 L511.5 286.7" fill="none" stroke="#1d5a66" stroke-width="1"/><path d="M511.5 286.7 L516.4 292.7" stroke="#12806f" stroke-width="1.3"/><rect x="-3.9" y="-3.9" width="7.8" height="7.8" fill="url(#navy)" stroke="#1c1f5c" stroke-width="0.7" transform="translate(313.0 259.7) rotate(85.0)"/><rect x="-3.9" y="-3.9" width="7.8" height="7.8" fill="url(#teal)" stroke="#0a4e45" stroke-width="0.7" transform="translate(322.9 268.0) rotate(26.6)"/><rect x="-3.9" y="-3.9" width="7.8" height="7.8" fill="url(#navy)" stroke="#1c1f5c" stroke-width="0.7" transform="translate(334.2 270.3) rotate(50.6)"/><rect x="-3.9" y="-3.9" width="7.8" height="7.8" fill="url(#teal)" stroke="#0a4e45" stroke-width="0.7" transform="translate(346.4 270.3) rotate(-1.9)"/><rect x="-3.9" y="-3.9" width="7.8" height="7.8" fill="url(#navy)" stroke="#1c1f5c" stroke-width="0.7" transform="translate(357.7 269.5) rotate(39.2)"/><rect x="-3.9" y="-3.9" width="7.8" height="7.8" fill="url(#teal)" stroke="#0a4e45" stroke-width="0.7" transform="translate(369.1 268.0) rotate(-9.0)"/><rect x="-3.9" y="-3.9" width="7.8" height="7.8" fill="url(#navy)" stroke="#1c1f5c" stroke-width="0.7" transform="translate(381.0 265.8) rotate(34.2)"/><rect x="-3.9" y="-3.9" width="7.8" height="7.8" fill="url(#teal)" stroke="#0a4e45" stroke-width="0.7" transform="translate(392.6 263.5) rotate(-11.3)"/><rect x="-3.9" y="-3.9" width="7.8" height="7.8" fill="url(#navy)" stroke="#1c1f5c" stroke-width="0.7" transform="translate(404.0 261.2) rotate(33.5)"/><rect x="-3.9" y="-3.9" width="7.8" height="7.8" fill="url(#teal)" stroke="#0a4e45" stroke-width="0.7" transform="translate(415.8 258.8) rotate(-11.5)"/><rect x="-3.9" y="-3.9" width="7.8" height="7.8" fill="url(#navy)" stroke="#1c1f5c" stroke-width="0.7" transform="translate(426.7 256.6) rotate(39.2)"/><rect x="-3.9" y="-3.9" width="7.8" height="7.8" fill="url(#teal)" stroke="#0a4e45" stroke-width="0.7" transform="translate(437.6 256.6) rotate(-0.5)"/><rect x="-3.9" y="-3.9" width="7.8" height="7.8" fill="url(#navy)" stroke="#1c1f5c" stroke-width="0.7" transform="translate(449.7 256.4) rotate(44.5)"/><rect x="-3.9" y="-3.9" width="7.8" height="7.8" fill="url(#teal)" stroke="#0a4e45" stroke-width="0.7" transform="translate(461.8 256.4) rotate(6.8)"/><rect x="-3.9" y="-3.9" width="7.8" height="7.8" fill="url(#navy)" stroke="#1c1f5c" stroke-width="0.7" transform="translate(474.0 259.3) rotate(62.4)"/><rect x="-3.9" y="-3.9" width="7.8" height="7.8" fill="url(#teal)" stroke="#0a4e45" stroke-width="0.7" transform="translate(484.8 263.6) rotate(26.9)"/><rect x="-3.9" y="-3.9" width="7.8" height="7.8" fill="url(#navy)" stroke="#1c1f5c" stroke-width="0.7" transform="translate(494.5 269.7) rotate(82.0)"/><rect x="-3.9" y="-3.9" width="7.8" height="7.8" fill="url(#teal)" stroke="#0a4e45" stroke-width="0.7" transform="translate(504.2 278.2) rotate(45.0)"/><rect x="-3.9" y="-3.9" width="7.8" height="7.8" fill="url(#navy)" stroke="#1c1f5c" stroke-width="0.7" transform="translate(511.5 286.7) rotate(94.3)"/>
<circle cx="223.8" cy="174.9" r="2.3" fill="url(#dot)"/><circle cx="219.7" cy="176.8" r="2.3" fill="url(#dot)"/><circle cx="215.7" cy="178.8" r="2.3" fill="url(#dot)"/><circle cx="211.7" cy="180.8" r="2.3" fill="url(#dot)"/><circle cx="233.5" cy="170.1" r="2.3" fill="url(#dot)"/><circle cx="237.5" cy="168.2" r="2.3" fill="url(#dot)"/><circle cx="241.6" cy="166.2" r="2.3" fill="url(#dot)"/><circle cx="245.6" cy="164.2" r="2.3" fill="url(#dot)"/><circle cx="225.6" cy="182.4" r="2.3" fill="url(#dot)"/><circle cx="221.4" cy="184.0" r="2.3" fill="url(#dot)"/><circle cx="217.2" cy="185.7" r="2.3" fill="url(#dot)"/><circle cx="213.0" cy="187.3" r="2.3" fill="url(#dot)"/><circle cx="235.7" cy="178.6" r="2.3" fill="url(#dot)"/><circle cx="239.9" cy="177.0" r="2.3" fill="url(#dot)"/><circle cx="244.1" cy="175.3" r="2.3" fill="url(#dot)"/><circle cx="248.3" cy="173.7" r="2.3" fill="url(#dot)"/><circle cx="227.0" cy="189.2" r="2.3" fill="url(#dot)"/><circle cx="222.7" cy="190.2" r="2.3" fill="url(#dot)"/><circle cx="218.3" cy="191.2" r="2.3" fill="url(#dot)"/><circle cx="213.9" cy="192.3" r="2.3" fill="url(#dot)"/><circle cx="237.6" cy="186.8" r="2.3" fill="url(#dot)"/><circle cx="242.0" cy="185.8" r="2.3" fill="url(#dot)"/><circle cx="246.3" cy="184.8" r="2.3" fill="url(#dot)"/><circle cx="250.7" cy="183.7" r="2.3" fill="url(#dot)"/><circle cx="228.6" cy="197.1" r="2.3" fill="url(#dot)"/><circle cx="224.1" cy="197.8" r="2.3" fill="url(#dot)"/><circle cx="219.7" cy="198.6" r="2.3" fill="url(#dot)"/><circle cx="215.2" cy="199.3" r="2.3" fill="url(#dot)"/><circle cx="239.2" cy="195.5" r="2.3" fill="url(#dot)"/><circle cx="243.7" cy="194.8" r="2.3" fill="url(#dot)"/><circle cx="248.1" cy="194.0" r="2.3" fill="url(#dotd)"/><circle cx="252.6" cy="193.3" r="2.3" fill="url(#dotd)"/><circle cx="229.4" cy="203.9" r="2.3" fill="url(#dot)"/><circle cx="225.0" cy="204.3" r="2.3" fill="url(#dot)"/><circle cx="220.5" cy="204.8" r="2.3" fill="url(#dot)"/><circle cx="216.0" cy="205.3" r="2.3" fill="url(#dot)"/><circle cx="240.2" cy="202.7" r="2.3" fill="url(#dot)"/><circle cx="244.7" cy="202.3" r="2.3" fill="url(#dot)"/><circle cx="249.1" cy="201.8" r="2.3" fill="url(#dotd)"/><circle cx="253.6" cy="201.3" r="2.3" fill="url(#dotd)"/><circle cx="230.1" cy="210.6" r="2.3" fill="url(#dot)"/><circle cx="225.6" cy="210.8" r="2.3" fill="url(#dot)"/><circle cx="221.1" cy="211.1" r="2.3" fill="url(#dot)"/><circle cx="216.7" cy="211.3" r="2.3" fill="url(#dot)"/><circle cx="240.9" cy="210.0" r="2.3" fill="url(#dot)"/><circle cx="245.4" cy="209.8" r="2.3" fill="url(#dot)"/><circle cx="249.9" cy="209.5" r="2.3" fill="url(#dot)"/><circle cx="254.4" cy="209.3" r="2.3" fill="url(#dot)"/><circle cx="230.6" cy="217.7" r="2.3" fill="url(#dot)"/><circle cx="226.1" cy="217.8" r="2.3" fill="url(#dot)"/><circle cx="221.6" cy="217.9" r="2.3" fill="url(#dot)"/><circle cx="217.1" cy="217.9" r="2.3" fill="url(#dot)"/><circle cx="241.4" cy="217.5" r="2.3" fill="url(#dot)"/><circle cx="245.9" cy="217.4" r="2.3" fill="url(#dot)"/><circle cx="250.4" cy="217.3" r="2.3" fill="url(#dot)"/><circle cx="254.9" cy="217.3" r="2.3" fill="url(#dot)"/><circle cx="230.9" cy="225.2" r="2.3" fill="url(#dot)"/><circle cx="226.4" cy="225.2" r="2.3" fill="url(#dot)"/><circle cx="221.9" cy="225.2" r="2.3" fill="url(#dot)"/><circle cx="217.4" cy="225.2" r="2.3" fill="url(#dot)"/><circle cx="241.7" cy="225.2" r="2.3" fill="url(#dot)"/><circle cx="246.2" cy="225.2" r="2.3" fill="url(#dot)"/><circle cx="250.7" cy="225.2" r="2.3" fill="url(#dot)"/><circle cx="255.2" cy="225.2" r="2.3" fill="url(#dot)"/><circle cx="231.1" cy="232.7" r="2.3" fill="url(#dot)"/><circle cx="226.6" cy="232.7" r="2.3" fill="url(#dot)"/><circle cx="222.1" cy="232.7" r="2.3" fill="url(#dot)"/><circle cx="217.6" cy="232.7" r="2.3" fill="url(#dot)"/><circle cx="241.9" cy="232.7" r="2.3" fill="url(#dot)"/><circle cx="246.4" cy="232.7" r="2.3" fill="url(#dot)"/><circle cx="250.9" cy="232.7" r="2.3" fill="url(#dot)"/><circle cx="255.4" cy="232.7" r="2.3" fill="url(#dot)"/><circle cx="230.4" cy="240.5" r="2.3" fill="url(#dot)"/><circle cx="225.9" cy="240.5" r="2.3" fill="url(#dot)"/><circle cx="221.4" cy="240.5" r="2.3" fill="url(#dot)"/><circle cx="216.9" cy="240.5" r="2.3" fill="url(#dot)"/><circle cx="241.2" cy="240.5" r="2.3" fill="url(#dot)"/><circle cx="245.7" cy="240.5" r="2.3" fill="url(#dot)"/><circle cx="250.2" cy="240.5" r="2.3" fill="url(#dot)"/><circle cx="254.7" cy="240.5" r="2.3" fill="url(#dot)"/><circle cx="229.6" cy="247.9" r="2.3" fill="url(#dot)"/><circle cx="225.1" cy="247.9" r="2.3" fill="url(#dot)"/><circle cx="220.6" cy="247.9" r="2.3" fill="url(#dot)"/><circle cx="216.1" cy="247.9" r="2.3" fill="url(#dot)"/><circle cx="240.4" cy="247.9" r="2.3" fill="url(#dot)"/><circle cx="244.9" cy="247.9" r="2.3" fill="url(#dot)"/><circle cx="249.4" cy="247.9" r="2.3" fill="url(#dot)"/><circle cx="253.9" cy="247.9" r="2.3" fill="url(#dot)"/><circle cx="228.4" cy="255.5" r="2.3" fill="url(#dot)"/><circle cx="223.9" cy="255.5" r="2.3" fill="url(#dot)"/><circle cx="219.4" cy="255.5" r="2.3" fill="url(#dot)"/><circle cx="214.9" cy="255.5" r="2.3" fill="url(#dot)"/><circle cx="239.2" cy="255.5" r="2.3" fill="url(#dot)"/><circle cx="243.7" cy="255.5" r="2.3" fill="url(#dot)"/><circle cx="248.2" cy="255.5" r="2.3" fill="url(#dot)"/><circle cx="252.7" cy="255.5" r="2.3" fill="url(#dot)"/><circle cx="227.3" cy="263.0" r="2.3" fill="url(#dot)"/><circle cx="222.8" cy="263.0" r="2.3" fill="url(#dot)"/><circle cx="218.3" cy="263.0" r="2.3" fill="url(#dot)"/><circle cx="213.8" cy="263.0" r="2.3" fill="url(#dot)"/><circle cx="238.1" cy="263.0" r="2.3" fill="url(#dot)"/><circle cx="242.6" cy="263.0" r="2.3" fill="url(#dot)"/><circle cx="247.1" cy="263.0" r="2.3" fill="url(#dot)"/><circle cx="251.6" cy="263.0" r="2.3" fill="url(#dot)"/><circle cx="226.2" cy="270.5" r="2.3" fill="url(#dot)"/><circle cx="221.7" cy="270.4" r="2.3" fill="url(#dot)"/><circle cx="217.2" cy="270.3" r="2.3" fill="url(#dot)"/><circle cx="212.7" cy="270.3" r="2.3" fill="url(#dot)"/><circle cx="237.0" cy="270.7" r="2.3" fill="url(#dot)"/><circle cx="241.5" cy="270.8" r="2.3" fill="url(#dot)"/><circle cx="246.0" cy="270.9" r="2.3" fill="url(#dot)"/><circle cx="250.5" cy="270.9" r="2.3" fill="url(#dot)"/><circle cx="225.0" cy="278.1" r="2.3" fill="url(#dot)"/><circle cx="220.5" cy="278.0" r="2.3" fill="url(#dot)"/><circle cx="216.0" cy="277.9" r="2.3" fill="url(#dot)"/><circle cx="211.5" cy="277.9" r="2.3" fill="url(#dot)"/><circle cx="235.8" cy="278.3" r="2.3" fill="url(#dot)"/><circle cx="240.3" cy="278.4" r="2.3" fill="url(#dot)"/><circle cx="244.8" cy="278.5" r="2.3" fill="url(#dot)"/><circle cx="249.3" cy="278.5" r="2.3" fill="url(#dot)"/><circle cx="223.9" cy="285.4" r="2.3" fill="url(#dot)"/><circle cx="219.4" cy="285.3" r="2.3" fill="url(#dot)"/><circle cx="214.9" cy="285.1" r="2.3" fill="url(#dot)"/><circle cx="210.4" cy="284.9" r="2.3" fill="url(#dot)"/><circle cx="234.7" cy="285.8" r="2.3" fill="url(#dot)"/><circle cx="239.2" cy="285.9" r="2.3" fill="url(#dot)"/><circle cx="243.7" cy="286.1" r="2.3" fill="url(#dot)"/><circle cx="248.2" cy="286.3" r="2.3" fill="url(#dot)"/><circle cx="222.7" cy="293.8" r="2.3" fill="url(#dot)"/><circle cx="218.2" cy="293.7" r="2.3" fill="url(#dot)"/><circle cx="213.7" cy="293.5" r="2.3" fill="url(#dot)"/><circle cx="209.2" cy="293.3" r="2.3" fill="url(#dot)"/><circle cx="233.4" cy="294.2" r="2.3" fill="url(#dot)"/><circle cx="237.9" cy="294.3" r="2.3" fill="url(#dot)"/><circle cx="242.4" cy="294.5" r="2.3" fill="url(#dot)"/><circle cx="246.9" cy="294.7" r="2.3" fill="url(#dot)"/><circle cx="221.5" cy="301.6" r="2.3" fill="url(#dot)"/><circle cx="217.0" cy="301.5" r="2.3" fill="url(#dot)"/><circle cx="212.5" cy="301.3" r="2.3" fill="url(#dot)"/><circle cx="208.0" cy="301.1" r="2.3" fill="url(#dot)"/><circle cx="232.3" cy="302.0" r="2.3" fill="url(#dot)"/><circle cx="236.8" cy="302.1" r="2.3" fill="url(#dot)"/><circle cx="241.2" cy="302.3" r="2.3" fill="url(#dot)"/><circle cx="245.7" cy="302.5" r="2.3" fill="url(#dot)"/><circle cx="220.3" cy="309.3" r="2.3" fill="url(#dot)"/><circle cx="215.8" cy="309.1" r="2.3" fill="url(#dot)"/><circle cx="211.3" cy="308.8" r="2.3" fill="url(#dot)"/><circle cx="206.8" cy="308.6" r="2.3" fill="url(#dot)"/><circle cx="231.1" cy="309.9" r="2.3" fill="url(#dot)"/><circle cx="235.5" cy="310.1" r="2.3" fill="url(#dot)"/><circle cx="240.0" cy="310.4" r="2.3" fill="url(#dot)"/><circle cx="244.5" cy="310.6" r="2.3" fill="url(#dot)"/><circle cx="219.1" cy="317.5" r="2.3" fill="url(#dot)"/><circle cx="214.6" cy="317.3" r="2.3" fill="url(#dot)"/><circle cx="210.1" cy="317.0" r="2.3" fill="url(#dot)"/><circle cx="205.6" cy="316.8" r="2.3" fill="url(#dot)"/><circle cx="229.8" cy="318.1" r="2.3" fill="url(#dot)"/><circle cx="234.3" cy="318.3" r="2.3" fill="url(#dot)"/><circle cx="238.8" cy="318.6" r="2.3" fill="url(#dot)"/><circle cx="243.3" cy="318.8" r="2.3" fill="url(#dot)"/><circle cx="217.8" cy="326.0" r="2.3" fill="url(#dot)"/><circle cx="213.3" cy="325.8" r="2.3" fill="url(#dot)"/><circle cx="208.8" cy="325.5" r="2.3" fill="url(#dot)"/><circle cx="204.3" cy="325.3" r="2.3" fill="url(#dot)"/><circle cx="228.6" cy="326.6" r="2.3" fill="url(#dot)"/><circle cx="233.1" cy="326.8" r="2.3" fill="url(#dot)"/><circle cx="237.6" cy="327.1" r="2.3" fill="url(#dot)"/><circle cx="242.1" cy="327.3" r="2.3" fill="url(#dot)"/><circle cx="216.9" cy="334.5" r="2.3" fill="url(#dot)"/><circle cx="212.4" cy="334.3" r="2.3" fill="url(#dot)"/><circle cx="207.9" cy="334.0" r="2.3" fill="url(#dot)"/><circle cx="203.4" cy="333.8" r="2.3" fill="url(#dot)"/><circle cx="227.7" cy="335.1" r="2.3" fill="url(#dot)"/><circle cx="232.2" cy="335.3" r="2.3" fill="url(#dot)"/><circle cx="236.7" cy="335.6" r="2.3" fill="url(#dot)"/><circle cx="241.2" cy="335.8" r="2.3" fill="url(#dot)"/><circle cx="216.1" cy="342.5" r="2.3" fill="url(#dot)"/><circle cx="211.6" cy="342.3" r="2.3" fill="url(#dot)"/><circle cx="207.1" cy="342.0" r="2.3" fill="url(#dot)"/><circle cx="202.6" cy="341.8" r="2.3" fill="url(#dot)"/><circle cx="226.9" cy="343.1" r="2.3" fill="url(#dot)"/><circle cx="231.4" cy="343.3" r="2.3" fill="url(#dot)"/><circle cx="235.9" cy="343.6" r="2.3" fill="url(#dot)"/><circle cx="240.4" cy="343.8" r="2.3" fill="url(#dot)"/><circle cx="215.7" cy="350.7" r="2.3" fill="url(#dot)"/><circle cx="211.2" cy="350.5" r="2.3" fill="url(#dot)"/><circle cx="206.7" cy="350.2" r="2.3" fill="url(#dot)"/><circle cx="202.2" cy="350.0" r="2.3" fill="url(#dot)"/><circle cx="226.5" cy="351.3" r="2.3" fill="url(#dot)"/><circle cx="231.0" cy="351.5" r="2.3" fill="url(#dot)"/><circle cx="235.5" cy="351.8" r="2.3" fill="url(#dot)"/><circle cx="240.0" cy="352.0" r="2.3" fill="url(#dot)"/>
<circle cx="372.9" cy="171.9" r="2.3" fill="url(#dot)"/><circle cx="368.9" cy="173.8" r="2.3" fill="url(#dot)"/><circle cx="364.8" cy="175.8" r="2.3" fill="url(#dot)"/><circle cx="360.8" cy="177.8" r="2.3" fill="url(#dot)"/><circle cx="382.6" cy="167.1" r="2.3" fill="url(#dot)"/><circle cx="386.6" cy="165.2" r="2.3" fill="url(#dot)"/><circle cx="390.7" cy="163.2" r="2.3" fill="url(#dot)"/><circle cx="394.7" cy="161.2" r="2.3" fill="url(#dot)"/><circle cx="374.5" cy="177.4" r="2.3" fill="url(#dot)"/><circle cx="370.3" cy="179.0" r="2.3" fill="url(#dot)"/><circle cx="366.1" cy="180.7" r="2.3" fill="url(#dot)"/><circle cx="361.9" cy="182.3" r="2.3" fill="url(#dot)"/><circle cx="384.6" cy="173.6" r="2.3" fill="url(#dot)"/><circle cx="388.8" cy="172.0" r="2.3" fill="url(#dot)"/><circle cx="393.0" cy="170.3" r="2.3" fill="url(#dot)"/><circle cx="397.2" cy="168.7" r="2.3" fill="url(#dot)"/><circle cx="375.7" cy="183.7" r="2.3" fill="url(#dot)"/><circle cx="371.4" cy="184.7" r="2.3" fill="url(#dot)"/><circle cx="367.0" cy="185.7" r="2.3" fill="url(#dot)"/><circle cx="362.6" cy="186.8" r="2.3" fill="url(#dot)"/><circle cx="386.3" cy="181.3" r="2.3" fill="url(#dot)"/><circle cx="390.6" cy="180.3" r="2.3" fill="url(#dot)"/><circle cx="395.0" cy="179.3" r="2.3" fill="url(#dot)"/><circle cx="399.4" cy="178.2" r="2.3" fill="url(#dot)"/><circle cx="377.2" cy="191.5" r="2.3" fill="url(#dot)"/><circle cx="372.8" cy="192.2" r="2.3" fill="url(#dot)"/><circle cx="368.3" cy="193.0" r="2.3" fill="url(#dot)"/><circle cx="363.9" cy="193.7" r="2.3" fill="url(#dot)"/><circle cx="387.9" cy="189.9" r="2.3" fill="url(#dot)"/><circle cx="392.3" cy="189.2" r="2.3" fill="url(#dot)"/><circle cx="396.8" cy="188.4" r="2.3" fill="url(#dot)"/><circle cx="401.2" cy="187.7" r="2.3" fill="url(#dot)"/><circle cx="378.3" cy="198.8" r="2.3" fill="url(#dot)"/><circle cx="373.9" cy="199.2" r="2.3" fill="url(#dot)"/><circle cx="369.4" cy="199.7" r="2.3" fill="url(#dot)"/><circle cx="364.9" cy="200.2" r="2.3" fill="url(#dot)"/><circle cx="389.1" cy="197.6" r="2.3" fill="url(#dot)"/><circle cx="393.6" cy="197.2" r="2.3" fill="url(#dot)"/><circle cx="398.0" cy="196.7" r="2.3" fill="url(#dot)"/><circle cx="402.5" cy="196.2" r="2.3" fill="url(#dot)"/><circle cx="379.1" cy="206.3" r="2.3" fill="url(#dot)"/><circle cx="374.6" cy="206.5" r="2.3" fill="url(#dot)"/><circle cx="370.1" cy="206.8" r="2.3" fill="url(#dot)"/><circle cx="365.6" cy="207.0" r="2.3" fill="url(#dot)"/><circle cx="389.9" cy="205.7" r="2.3" fill="url(#dot)"/><circle cx="394.4" cy="205.5" r="2.3" fill="url(#dot)"/><circle cx="398.9" cy="205.2" r="2.3" fill="url(#dot)"/><circle cx="403.4" cy="205.0" r="2.3" fill="url(#dotd)"/><circle cx="379.5" cy="213.8" r="2.3" fill="url(#dot)"/><circle cx="375.0" cy="213.9" r="2.3" fill="url(#dot)"/><circle cx="370.5" cy="214.0" r="2.3" fill="url(#dot)"/><circle cx="366.0" cy="214.0" r="2.3" fill="url(#dot)"/><circle cx="390.3" cy="213.6" r="2.3" fill="url(#dot)"/><circle cx="394.8" cy="213.5" r="2.3" fill="url(#dot)"/><circle cx="399.3" cy="213.4" r="2.3" fill="url(#dot)"/><circle cx="403.8" cy="213.4" r="2.3" fill="url(#dotd)"/><circle cx="379.6" cy="221.2" r="2.3" fill="url(#dot)"/><circle cx="375.1" cy="221.2" r="2.3" fill="url(#dot)"/><circle cx="370.6" cy="221.2" r="2.3" fill="url(#dot)"/><circle cx="366.1" cy="221.2" r="2.3" fill="url(#dot)"/><circle cx="390.4" cy="221.2" r="2.3" fill="url(#dot)"/><circle cx="394.9" cy="221.2" r="2.3" fill="url(#dot)"/><circle cx="399.4" cy="221.2" r="2.3" fill="url(#dot)"/><circle cx="403.9" cy="221.2" r="2.3" fill="url(#dot)"/><circle cx="379.6" cy="228.7" r="2.3" fill="url(#dot)"/><circle cx="375.1" cy="228.7" r="2.3" fill="url(#dot)"/><circle cx="370.6" cy="228.7" r="2.3" fill="url(#dot)"/><circle cx="366.1" cy="228.7" r="2.3" fill="url(#dot)"/><circle cx="390.4" cy="228.7" r="2.3" fill="url(#dot)"/><circle cx="394.9" cy="228.7" r="2.3" fill="url(#dot)"/><circle cx="399.4" cy="228.7" r="2.3" fill="url(#dot)"/><circle cx="403.9" cy="228.7" r="2.3" fill="url(#dot)"/><circle cx="379.0" cy="237.0" r="2.3" fill="url(#dot)"/><circle cx="374.5" cy="237.0" r="2.3" fill="url(#dot)"/><circle cx="370.0" cy="237.0" r="2.3" fill="url(#dot)"/><circle cx="365.5" cy="237.0" r="2.3" fill="url(#dot)"/><circle cx="389.8" cy="237.0" r="2.3" fill="url(#dot)"/><circle cx="394.3" cy="237.0" r="2.3" fill="url(#dot)"/><circle cx="398.8" cy="237.0" r="2.3" fill="url(#dot)"/><circle cx="403.3" cy="237.0" r="2.3" fill="url(#dot)"/><circle cx="378.3" cy="244.6" r="2.3" fill="url(#dot)"/><circle cx="373.8" cy="244.6" r="2.3" fill="url(#dot)"/><circle cx="369.3" cy="244.6" r="2.3" fill="url(#dot)"/><circle cx="364.8" cy="244.6" r="2.3" fill="url(#dot)"/><circle cx="389.1" cy="244.6" r="2.3" fill="url(#dot)"/><circle cx="393.6" cy="244.6" r="2.3" fill="url(#dot)"/><circle cx="398.1" cy="244.6" r="2.3" fill="url(#dot)"/><circle cx="402.6" cy="244.6" r="2.3" fill="url(#dot)"/><circle cx="377.6" cy="252.0" r="2.3" fill="url(#dot)"/><circle cx="373.1" cy="252.0" r="2.3" fill="url(#dot)"/><circle cx="368.6" cy="252.0" r="2.3" fill="url(#dot)"/><circle cx="364.1" cy="252.0" r="2.3" fill="url(#dot)"/><circle cx="388.4" cy="252.0" r="2.3" fill="url(#dot)"/><circle cx="392.9" cy="252.0" r="2.3" fill="url(#dot)"/><circle cx="397.4" cy="252.0" r="2.3" fill="url(#dot)"/><circle cx="401.9" cy="252.0" r="2.3" fill="url(#dot)"/><circle cx="377.0" cy="258.8" r="2.3" fill="url(#dot)"/><circle cx="372.5" cy="258.8" r="2.3" fill="url(#dot)"/><circle cx="368.0" cy="258.8" r="2.3" fill="url(#dot)"/><circle cx="363.5" cy="258.8" r="2.3" fill="url(#dot)"/><circle cx="387.8" cy="258.8" r="2.3" fill="url(#dot)"/><circle cx="392.3" cy="258.8" r="2.3" fill="url(#dot)"/><circle cx="396.8" cy="258.8" r="2.3" fill="url(#dot)"/><circle cx="401.3" cy="258.8" r="2.3" fill="url(#dot)"/><circle cx="376.1" cy="265.9" r="2.3" fill="url(#dot)"/><circle cx="371.6" cy="265.8" r="2.3" fill="url(#dot)"/><circle cx="367.1" cy="265.7" r="2.3" fill="url(#dot)"/><circle cx="362.6" cy="265.7" r="2.3" fill="url(#dot)"/><circle cx="386.9" cy="266.1" r="2.3" fill="url(#dot)"/><circle cx="391.4" cy="266.2" r="2.3" fill="url(#dot)"/><circle cx="395.9" cy="266.3" r="2.3" fill="url(#dot)"/><circle cx="400.4" cy="266.3" r="2.3" fill="url(#dot)"/><circle cx="374.8" cy="273.9" r="2.3" fill="url(#dot)"/><circle cx="370.3" cy="273.8" r="2.3" fill="url(#dot)"/><circle cx="365.8" cy="273.7" r="2.3" fill="url(#dot)"/><circle cx="361.3" cy="273.7" r="2.3" fill="url(#dot)"/><circle cx="385.6" cy="274.1" r="2.3" fill="url(#dot)"/><circle cx="390.1" cy="274.2" r="2.3" fill="url(#dot)"/><circle cx="394.6" cy="274.3" r="2.3" fill="url(#dot)"/><circle cx="399.1" cy="274.3" r="2.3" fill="url(#dot)"/><circle cx="373.7" cy="281.3" r="2.3" fill="url(#dot)"/><circle cx="369.2" cy="281.2" r="2.3" fill="url(#dot)"/><circle cx="364.7" cy="281.0" r="2.3" fill="url(#dot)"/><circle cx="360.2" cy="280.8" r="2.3" fill="url(#dot)"/><circle cx="384.5" cy="281.7" r="2.3" fill="url(#dot)"/><circle cx="389.0" cy="281.8" r="2.3" fill="url(#dot)"/><circle cx="393.5" cy="282.0" r="2.3" fill="url(#dot)"/><circle cx="398.0" cy="282.2" r="2.3" fill="url(#dot)"/><circle cx="372.4" cy="289.8" r="2.3" fill="url(#dot)"/><circle cx="367.9" cy="289.7" r="2.3" fill="url(#dot)"/><circle cx="363.4" cy="289.5" r="2.3" fill="url(#dot)"/><circle cx="358.9" cy="289.3" r="2.3" fill="url(#dot)"/><circle cx="383.2" cy="290.2" r="2.3" fill="url(#dot)"/><circle cx="387.7" cy="290.3" r="2.3" fill="url(#dot)"/><circle cx="392.2" cy="290.5" r="2.3" fill="url(#dot)"/><circle cx="396.7" cy="290.7" r="2.3" fill="url(#dot)"/><circle cx="370.9" cy="297.6" r="2.3" fill="url(#dot)"/><circle cx="366.4" cy="297.5" r="2.3" fill="url(#dot)"/><circle cx="361.9" cy="297.3" r="2.3" fill="url(#dot)"/><circle cx="357.4" cy="297.1" r="2.3" fill="url(#dot)"/><circle cx="381.7" cy="298.0" r="2.3" fill="url(#dot)"/><circle cx="386.2" cy="298.1" r="2.3" fill="url(#dot)"/><circle cx="390.7" cy="298.3" r="2.3" fill="url(#dot)"/><circle cx="395.2" cy="298.5" r="2.3" fill="url(#dot)"/><circle cx="369.3" cy="305.7" r="2.3" fill="url(#dot)"/><circle cx="364.9" cy="305.5" r="2.3" fill="url(#dot)"/><circle cx="360.4" cy="305.2" r="2.3" fill="url(#dot)"/><circle cx="355.9" cy="305.0" r="2.3" fill="url(#dot)"/><circle cx="380.1" cy="306.3" r="2.3" fill="url(#dot)"/><circle cx="384.6" cy="306.5" r="2.3" fill="url(#dot)"/><circle cx="389.1" cy="306.8" r="2.3" fill="url(#dot)"/><circle cx="393.6" cy="307.0" r="2.3" fill="url(#dot)"/><circle cx="367.8" cy="313.7" r="2.3" fill="url(#dot)"/><circle cx="363.4" cy="313.5" r="2.3" fill="url(#dot)"/><circle cx="358.9" cy="313.2" r="2.3" fill="url(#dot)"/><circle cx="354.4" cy="313.0" r="2.3" fill="url(#dot)"/><circle cx="378.6" cy="314.3" r="2.3" fill="url(#dot)"/><circle cx="383.1" cy="314.5" r="2.3" fill="url(#dot)"/><circle cx="387.6" cy="314.8" r="2.3" fill="url(#dot)"/><circle cx="392.1" cy="315.0" r="2.3" fill="url(#dot)"/><circle cx="366.3" cy="322.2" r="2.3" fill="url(#dot)"/><circle cx="361.8" cy="322.0" r="2.3" fill="url(#dot)"/><circle cx="357.3" cy="321.7" r="2.3" fill="url(#dot)"/><circle cx="352.8" cy="321.5" r="2.3" fill="url(#dot)"/><circle cx="377.0" cy="322.8" r="2.3" fill="url(#dot)"/><circle cx="381.5" cy="323.0" r="2.3" fill="url(#dot)"/><circle cx="386.0" cy="323.3" r="2.3" fill="url(#dot)"/><circle cx="390.5" cy="323.5" r="2.3" fill="url(#dot)"/><circle cx="364.8" cy="330.9" r="2.3" fill="url(#dot)"/><circle cx="360.4" cy="330.7" r="2.3" fill="url(#dot)"/><circle cx="355.9" cy="330.4" r="2.3" fill="url(#dot)"/><circle cx="351.4" cy="330.2" r="2.3" fill="url(#dot)"/><circle cx="375.6" cy="331.5" r="2.3" fill="url(#dot)"/><circle cx="380.1" cy="331.7" r="2.3" fill="url(#dot)"/><circle cx="384.6" cy="332.0" r="2.3" fill="url(#dot)"/><circle cx="389.1" cy="332.2" r="2.3" fill="url(#dot)"/><circle cx="363.7" cy="339.5" r="2.3" fill="url(#dot)"/><circle cx="359.3" cy="339.3" r="2.3" fill="url(#dot)"/><circle cx="354.8" cy="339.0" r="2.3" fill="url(#dot)"/><circle cx="350.3" cy="338.8" r="2.3" fill="url(#dot)"/><circle cx="374.5" cy="340.1" r="2.3" fill="url(#dot)"/><circle cx="379.0" cy="340.3" r="2.3" fill="url(#dot)"/><circle cx="383.5" cy="340.6" r="2.3" fill="url(#dot)"/><circle cx="388.0" cy="340.8" r="2.3" fill="url(#dot)"/><circle cx="363.1" cy="347.5" r="2.3" fill="url(#dot)"/><circle cx="358.6" cy="347.3" r="2.3" fill="url(#dot)"/><circle cx="354.2" cy="347.0" r="2.3" fill="url(#dot)"/><circle cx="349.7" cy="346.8" r="2.3" fill="url(#dot)"/><circle cx="373.9" cy="348.1" r="2.3" fill="url(#dot)"/><circle cx="378.4" cy="348.3" r="2.3" fill="url(#dot)"/><circle cx="382.9" cy="348.6" r="2.3" fill="url(#dot)"/><circle cx="387.4" cy="348.8" r="2.3" fill="url(#dot)"/>
<circle cx="219.4" cy="392.3" r="7.3" fill="#8d9dd0" stroke="#4d5c98" stroke-width="0.9"/>
<circle cx="233.8" cy="391.8" r="7.3" fill="#8d9dd0" stroke="#4d5c98" stroke-width="0.9"/>
<circle cx="370.5" cy="388.5" r="7.3" fill="#8d9dd0" stroke="#4d5c98" stroke-width="0.9"/>
<circle cx="383.6" cy="383.5" r="7.3" fill="#8d9dd0" stroke="#4d5c98" stroke-width="0.9"/>
<path d="M223.4 167.3 L225.2 174.6 L227.0 181.9 L228.6 189.2 L230.0 196.5 L231.0 203.8 L231.8 211.0 L232.3 218.3 L232.6 225.6 L232.8 232.9 L232.1 240.2 L231.4 247.5 L230.3 254.8 L229.3 262.1 L228.2 269.4 L227.1 276.6 L226.0 283.9 L225.0 291.2 L223.9 298.5 L222.8 305.8 L221.7 313.1 L220.7 320.4 L219.7 327.7 L219.0 335.0 L218.3 342.3 L217.8 349.6 L218.1 356.8 L218.3 364.1 L219.3 371.4 L220.9 378.7 L221.9 386.0 L228.1 386.0 L227.2 378.7 L225.6 371.4 L224.7 364.1 L224.5 356.8 L224.3 349.6 L224.8 342.3 L225.6 335.0 L226.3 327.7 L227.4 320.4 L228.5 313.1 L229.7 305.8 L230.8 298.5 L231.9 291.2 L233.1 283.9 L234.2 276.6 L235.3 269.4 L236.5 262.1 L237.6 254.8 L238.7 247.5 L239.5 240.2 L240.2 232.9 L240.1 225.6 L239.9 218.3 L239.4 211.0 L238.7 203.8 L237.8 196.5 L236.5 189.2 L234.9 181.9 L233.1 174.6 L231.4 167.3Z" fill="url(#core)"/><ellipse cx="227.4" cy="167.3" rx="4.0" ry="4.0" fill="url(#core)"/>
<path d="M372.2 164.3 L374.4 171.6 L376.3 178.8 L377.8 186.1 L379.1 193.3 L380.2 200.6 L380.8 207.8 L381.2 215.1 L381.2 222.4 L381.3 229.6 L380.7 236.9 L380.1 244.1 L379.5 251.4 L378.8 258.6 L377.9 265.9 L376.8 273.1 L375.7 280.4 L374.6 287.7 L373.6 294.9 L372.5 302.2 L371.5 309.4 L370.4 316.7 L369.4 323.9 L368.6 331.2 L368.0 338.5 L367.4 345.7 L367.5 353.0 L367.8 360.2 L368.1 367.5 L368.5 374.7 L369.7 382.0 L375.9 382.0 L374.7 374.7 L374.5 367.5 L374.2 360.2 L374.0 353.0 L373.9 345.7 L374.5 338.5 L375.2 331.2 L376.1 323.9 L377.2 316.7 L378.3 309.4 L379.4 302.2 L380.5 294.9 L381.6 287.7 L382.8 280.4 L383.9 273.1 L385.1 265.9 L386.0 258.6 L386.7 251.4 L387.5 244.1 L388.1 236.9 L388.7 229.6 L388.8 222.4 L388.8 215.1 L388.4 207.8 L387.9 200.6 L386.8 193.3 L385.6 186.1 L384.2 178.8 L382.3 171.6 L380.2 164.3Z" fill="url(#core)"/><ellipse cx="376.2" cy="164.3" rx="4.0" ry="4.0" fill="url(#core)"/>
<rect x="300.1" y="270.4" width="9.1" height="81.2" fill="#1d5cac"/>
<rect x="301.9" y="355.7" width="6" height="7.1" fill="#1d5cac"/>
<path d="M304.6 351 L304.6 408.3" stroke="#1d5cac" stroke-width="1.6"/>
<path d="M419.6 329.8 C420.8 328.9 425.3 326.4 427.0 324.6 C428.7 322.8 429.9 320.4 429.9 318.8 C429.9 317.2 428.4 316.2 427.0 315.1 C425.6 314.0 422.9 313.3 421.8 312.2 C420.7 311.1 420.4 309.6 420.4 308.5 C420.4 307.4 420.2 306.8 421.8 305.6 C423.4 304.4 428.4 302.7 429.9 301.2 C431.4 299.7 431.1 298.3 430.6 296.8 C430.1 295.3 428.6 293.6 427.0 292.4 C425.4 291.2 422.2 290.5 421.1 289.5 C420.0 288.5 420.1 287.7 420.4 286.6 C420.6 285.5 420.9 284.1 422.6 282.9 C424.3 281.7 429.2 280.5 430.6 279.3 C432.1 278.1 431.9 276.8 431.3 275.6 C430.7 274.4 428.7 273.1 427.0 272.0 C425.3 270.9 422.2 270.5 421.1 269.0 C420.0 267.5 419.9 265.3 420.4 263.2 C420.9 261.1 420.7 258.0 424.0 256.6 C427.3 255.2 434.7 254.7 440.1 254.7 C445.5 254.7 452.7 255.2 456.2 256.6 C459.7 258.0 460.7 260.9 461.3 263.2 C461.9 265.5 462.0 268.4 459.9 270.5 C457.8 272.6 451.0 274.0 448.9 275.6 C446.8 277.2 447.1 278.4 447.4 280.0 C447.6 281.6 448.3 283.8 450.4 285.1 C452.5 286.4 458.1 286.8 459.9 288.0 C461.7 289.2 461.4 290.9 461.3 292.4 C461.2 293.9 461.3 295.4 459.1 296.8 C456.9 298.2 450.3 299.3 448.2 300.5 C446.1 301.7 446.5 302.9 446.7 304.1 C446.9 305.3 447.5 306.8 449.6 307.8 C451.7 308.8 457.3 308.8 459.1 310.0 C460.9 311.2 461.0 313.6 460.6 315.1 C460.2 316.6 459.4 317.8 457.0 318.8 C454.6 319.8 448.1 320.0 446.0 321.0 C443.9 322.0 444.8 324.0 444.5 324.6" fill="none" stroke="#c4557f" stroke-width="4.6" stroke-linecap="round" stroke-linejoin="round"/>
<path d="M419.6 329.8 C420.8 328.9 425.3 326.4 427.0 324.6 C428.7 322.8 429.9 320.4 429.9 318.8 C429.9 317.2 428.4 316.2 427.0 315.1 C425.6 314.0 422.9 313.3 421.8 312.2 C420.7 311.1 420.4 309.6 420.4 308.5 C420.4 307.4 420.2 306.8 421.8 305.6 C423.4 304.4 428.4 302.7 429.9 301.2 C431.4 299.7 431.1 298.3 430.6 296.8 C430.1 295.3 428.6 293.6 427.0 292.4 C425.4 291.2 422.2 290.5 421.1 289.5 C420.0 288.5 420.1 287.7 420.4 286.6 C420.6 285.5 420.9 284.1 422.6 282.9 C424.3 281.7 429.2 280.5 430.6 279.3 C432.1 278.1 431.9 276.8 431.3 275.6 C430.7 274.4 428.7 273.1 427.0 272.0 C425.3 270.9 422.2 270.5 421.1 269.0 C420.0 267.5 419.9 265.3 420.4 263.2 C420.9 261.1 420.7 258.0 424.0 256.6 C427.3 255.2 434.7 254.7 440.1 254.7 C445.5 254.7 452.7 255.2 456.2 256.6 C459.7 258.0 460.7 260.9 461.3 263.2 C461.9 265.5 462.0 268.4 459.9 270.5 C457.8 272.6 451.0 274.0 448.9 275.6 C446.8 277.2 447.1 278.4 447.4 280.0 C447.6 281.6 448.3 283.8 450.4 285.1 C452.5 286.4 458.1 286.8 459.9 288.0 C461.7 289.2 461.4 290.9 461.3 292.4 C461.2 293.9 461.3 295.4 459.1 296.8 C456.9 298.2 450.3 299.3 448.2 300.5 C446.1 301.7 446.5 302.9 446.7 304.1 C446.9 305.3 447.5 306.8 449.6 307.8 C451.7 308.8 457.3 308.8 459.1 310.0 C460.9 311.2 461.0 313.6 460.6 315.1 C460.2 316.6 459.4 317.8 457.0 318.8 C454.6 319.8 448.1 320.0 446.0 321.0 C443.9 322.0 444.8 324.0 444.5 324.6" fill="none" stroke="#e584ac" stroke-width="3.4" stroke-linecap="round" stroke-linejoin="round"/>
<path d="M444.5 324 L442.7 351.2" stroke="#5e1430" stroke-width="4.4"/><path d="M444.5 324 L442.7 351.2" stroke="#7a1f42" stroke-width="3.2"/>
<path d="M442.7 351 C441.5 375 440.5 395 434 410" fill="none" stroke="#c4557f" stroke-width="4.2" stroke-linecap="round"/>
<path d="M442.7 351 C441.5 375 440.5 395 434 410" fill="none" stroke="#e584ac" stroke-width="3.0" stroke-linecap="round"/>
<text x="15" y="166.3" font-size="10.85" fill="#2a2a2a"  stroke="#2a2a2a" stroke-width="0.22">Regulation of coagulation</text>
<text x="15" y="179.7" font-size="10.85" fill="#2a2a2a"  stroke="#2a2a2a" stroke-width="0.22">Signal transduction</text>
<text x="15" y="193.1" font-size="10.85" fill="#2a2a2a"  stroke="#2a2a2a" stroke-width="0.22">Interaction with cellular products</text>
<text x="15" y="206.4" font-size="10.85" fill="#2a2a2a"  stroke="#2a2a2a" stroke-width="0.22">and cytokines</text>
<text x="15" y="219.8" font-size="10.85" fill="#2a2a2a"  stroke="#2a2a2a" stroke-width="0.22">Permeability control</text>
<text x="15" y="233.2" font-size="10.85" fill="#2a2a2a"  stroke="#2a2a2a" stroke-width="0.22">Leukocyte recruitment</text>
<text x="15" y="246.6" font-size="10.85" fill="#2a2a2a"  stroke="#2a2a2a" stroke-width="0.22">Vascular tone modulation</text>
<text x="521.7" y="159.2" font-size="10.7" fill="#2a2a2a"  stroke="#2a2a2a" stroke-width="0.12">Trauma</text>
<text x="521.7" y="172.6" font-size="10.7" fill="#2a2a2a"  stroke="#2a2a2a" stroke-width="0.12">Surgery</text>
<text x="521.7" y="186.1" font-size="10.7" fill="#2a2a2a"  stroke="#2a2a2a" stroke-width="0.12">Anesthetic management</text>
<text x="521.7" y="199.5" font-size="10.7" fill="#2a2a2a"  stroke="#2a2a2a" stroke-width="0.12">Infection or sepsis</text>
<text x="521.7" y="213.0" font-size="10.7" fill="#2a2a2a"  stroke="#2a2a2a" stroke-width="0.12">Hyperglycemia</text>
<text x="154" y="286.6" font-size="10.8" fill="#2a2a2a" textLength="21.5" lengthAdjust="spacingAndGlyphs" stroke="#2a2a2a" stroke-width="0.22">GAG</text>
<path d="M179 284.2 L205.5 284.2 M196.9 363.4 L222.9 363.4" stroke="#333" stroke-width="0.9"/>
<text x="140.6" y="299.5" font-size="10.2" fill="#2a2a2a"  stroke="#2a2a2a" stroke-width="0.22">sidechains</text>
<text x="134" y="365.7" font-size="10.5" fill="#2a2a2a"  stroke="#2a2a2a" stroke-width="0.22">Core protein</text>
<text x="280" y="227" font-size="10.7" fill="#2a2a2a"  stroke="#2a2a2a" stroke-width="0.22">Hyaluronan</text>
<path d="M313.5 231 L309.5 246.5" stroke="#333" stroke-width="0.8"/>
<text x="258.2" y="191.7" font-size="8.2" fill="#3a2030"  stroke="#3a2030" stroke-width="0.22">soluble</text>
<text x="258.2" y="201.5" font-size="8.2" fill="#3a2030"  stroke="#3a2030" stroke-width="0.22">protein</text>
<text x="411.7" y="208.9" font-size="8.2" fill="#3a2030"  stroke="#3a2030" stroke-width="0.22">soluble</text>
<text x="411.7" y="219.5" font-size="8.2" fill="#3a2030"  stroke="#3a2030" stroke-width="0.22">protein</text>
<text x="432.8" y="271.2" font-size="7.2" fill="#222" stroke="#222" stroke-width="0.25">S-S</text>
<text x="432.8" y="290.2" font-size="7.2" fill="#222" stroke="#222" stroke-width="0.25">S-S</text>
<text x="432.8" y="313.7" font-size="7.2" fill="#222" stroke="#222" stroke-width="0.25">S-S</text>
<text x="151.3" y="467.1" font-size="10.5" fill="#2a2a2a"  stroke="#2a2a2a" stroke-width="0.22">Proteoglycan</text>
<text x="287.4" y="466.1" font-size="10.6" fill="#2a2a2a"  stroke="#2a2a2a" stroke-width="0.22">Glycoprotein</text>
<text x="435" y="467.7" font-size="10.2" fill="#2a2a2a" textLength="25" lengthAdjust="spacingAndGlyphs" stroke="#2a2a2a" stroke-width="0.1">CD44</text>
<path d="M530.7 408.2 L546.7 408.2" stroke="#555" stroke-width="0.9"/>
<text x="549.8" y="412.3" font-size="10.4" fill="#2a2a2a"  stroke="#2a2a2a" stroke-width="0.22">Endothelial cell</text>
<path d="M540 427 L546 436.5 L540 447" fill="none" stroke="#333" stroke-width="0.9"/>
<text x="546.2" y="441.2" font-size="10.5" fill="#2a2a2a"  stroke="#2a2a2a" stroke-width="0.22">Basement membrane</text>
<text x="5" y="517.3" font-size="10.1" fill="#111" font-weight="bold" stroke="#111" stroke-width="0.3">Figure 3:</text>
<text x="5" y="532.3" font-size="10.6" fill="#2a2a2a"  stroke="#2a2a2a" stroke-width="0.22">Endothelial glycocalyx structure</text>
<text x="5" y="546.8" font-size="10.4" fill="#2a2a2a" textLength="650" lengthAdjust="spacing" stroke="#2a2a2a" stroke-width="0.22">Schematic representation of the glycocalyx enveloping endothelial cells shows that the endothelial glycocalyx (EG) primarily consists of</text>
<text x="5" y="561.8" font-size="10.4" fill="#2a2a2a" textLength="650" lengthAdjust="spacing" stroke="#2a2a2a" stroke-width="0.22">proteoglycans (syndecans and glypicans) with glycosaminoglycan side chains and glycoproteins (selectins and integrins). Components such</text>
<text x="5" y="576.8" font-size="10.4" fill="#2a2a2a" textLength="650" lengthAdjust="spacing" stroke="#2a2a2a" stroke-width="0.22">as hyaluronan, plasma proteins, and soluble proteoglycans constitute the endothelial surface layer. The EG plays a crucial role in regulating</text>
<text x="5" y="591.8" font-size="10.4" fill="#2a2a2a" textLength="650" lengthAdjust="spacing" stroke="#2a2a2a" stroke-width="0.22">vascular function and homeostasis. Its integrity loss is associated with various inflammatory conditions, including trauma, infectious diseases,</text>
<text x="5" y="606.8" font-size="10.3" fill="#2a2a2a"  stroke="#2a2a2a" stroke-width="0.22">sepsis, diabetes mellitus, and hyperhydration.</text>
</svg></body></html>
